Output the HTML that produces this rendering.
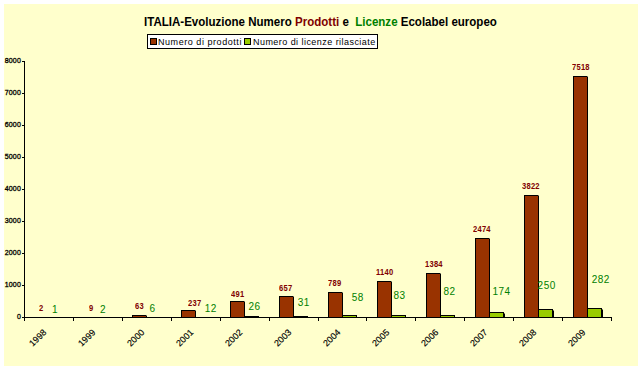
<!DOCTYPE html>
<html><head><meta charset="utf-8"><style>
html,body{margin:0;padding:0;background:#fff;}
body{width:643px;height:371px;position:relative;overflow:hidden;font-family:"Liberation Sans",sans-serif;}
#bg{position:absolute;left:4px;top:4px;width:634px;height:362px;background:#FFFFCC;}
svg{position:absolute;left:0;top:0;shape-rendering:crispEdges;}
.t{position:absolute;white-space:nowrap;line-height:1;}
#title{left:144px;top:16px;font-size:12px;font-weight:bold;color:#000;transform-origin:0 0;transform:scaleX(0.961);}
#legend{position:absolute;left:147px;top:34px;width:229px;height:13px;border:1px solid #000;background:#fff;}
.lm{position:absolute;top:3px;width:5px;height:5px;border:1px solid #000;}
.lt{position:absolute;top:3px;font-size:9px;line-height:1;white-space:nowrap;letter-spacing:0.55px;}
.ylab{position:absolute;font-size:7px;right:622px;letter-spacing:0.2px;-webkit-text-stroke:0.3px #000;text-align:right;line-height:1;}
.pl{position:absolute;font-size:9px;font-weight:bold;color:#800000;line-height:1;white-space:nowrap;transform-origin:0 0;transform:scaleX(0.84);letter-spacing:0.3px;}
.gl{position:absolute;font-size:10px;color:#008000;line-height:1;white-space:nowrap;letter-spacing:0.5px;}
.xl{position:absolute;font-size:9px;line-height:1;white-space:nowrap;transform-origin:100% 0;transform:rotate(-45deg);-webkit-text-stroke:0.15px #000;}
</style></head><body>
<div id="bg"></div>

<svg width="643" height="371" viewBox="0 0 643 371"><rect x="24" y="61" width="1" height="257" fill="#000"/><rect x="22" y="317" width="2" height="1" fill="#000"/><rect x="22" y="285" width="2" height="1" fill="#000"/><rect x="22" y="253" width="2" height="1" fill="#000"/><rect x="22" y="221" width="2" height="1" fill="#000"/><rect x="22" y="189" width="2" height="1" fill="#000"/><rect x="22" y="157" width="2" height="1" fill="#000"/><rect x="22" y="125" width="2" height="1" fill="#000"/><rect x="22" y="93" width="2" height="1" fill="#000"/><rect x="22" y="61" width="2" height="1" fill="#000"/><rect x="24" y="317" width="588" height="1" fill="#000"/><rect x="24" y="318" width="1" height="3" fill="#000"/><rect x="73" y="318" width="1" height="3" fill="#000"/><rect x="122" y="318" width="1" height="3" fill="#000"/><rect x="171" y="318" width="1" height="3" fill="#000"/><rect x="220" y="318" width="1" height="3" fill="#000"/><rect x="269" y="318" width="1" height="3" fill="#000"/><rect x="318" y="318" width="1" height="3" fill="#000"/><rect x="366" y="318" width="1" height="3" fill="#000"/><rect x="415" y="318" width="1" height="3" fill="#000"/><rect x="464" y="318" width="1" height="3" fill="#000"/><rect x="513" y="318" width="1" height="3" fill="#000"/><rect x="562" y="318" width="1" height="3" fill="#000"/><rect x="611" y="318" width="1" height="3" fill="#000"/><rect x="132" y="315" width="15" height="2" fill="#000"/><rect x="146" y="315" width="1" height="1" fill="#7f7f66"/><rect x="133" y="316" width="13" height="1" fill="#993300"/><rect x="181" y="310" width="15" height="7" fill="#000"/><rect x="195" y="310" width="1" height="1" fill="#7f7f66"/><rect x="182" y="311" width="13" height="6" fill="#993300"/><rect x="230" y="301" width="15" height="16" fill="#000"/><rect x="244" y="301" width="1" height="1" fill="#7f7f66"/><rect x="231" y="302" width="13" height="15" fill="#993300"/><rect x="245" y="316" width="14" height="1" fill="#000"/><rect x="279" y="296" width="15" height="21" fill="#000"/><rect x="293" y="296" width="1" height="1" fill="#7f7f66"/><rect x="280" y="297" width="13" height="20" fill="#993300"/><rect x="294" y="316" width="14" height="1" fill="#000"/><rect x="328" y="292" width="15" height="25" fill="#000"/><rect x="342" y="292" width="1" height="1" fill="#7f7f66"/><rect x="329" y="293" width="13" height="24" fill="#993300"/><rect x="343" y="315" width="14" height="2" fill="#000"/><rect x="343" y="316" width="13" height="1" fill="#99CC00"/><rect x="377" y="281" width="15" height="36" fill="#000"/><rect x="391" y="281" width="1" height="1" fill="#7f7f66"/><rect x="378" y="282" width="13" height="35" fill="#993300"/><rect x="392" y="315" width="14" height="2" fill="#000"/><rect x="392" y="316" width="13" height="1" fill="#99CC00"/><rect x="426" y="273" width="15" height="44" fill="#000"/><rect x="440" y="273" width="1" height="1" fill="#7f7f66"/><rect x="427" y="274" width="13" height="43" fill="#993300"/><rect x="441" y="315" width="14" height="2" fill="#000"/><rect x="441" y="316" width="13" height="1" fill="#99CC00"/><rect x="475" y="238" width="15" height="79" fill="#000"/><rect x="489" y="238" width="1" height="1" fill="#7f7f66"/><rect x="476" y="239" width="13" height="78" fill="#993300"/><rect x="490" y="312" width="14" height="5" fill="#000"/><rect x="504" y="314" width="1" height="3" fill="#000"/><rect x="504" y="313" width="1" height="1" fill="#7f7f66"/><rect x="490" y="313" width="13" height="4" fill="#99CC00"/><rect x="524" y="195" width="15" height="122" fill="#000"/><rect x="538" y="195" width="1" height="1" fill="#7f7f66"/><rect x="525" y="196" width="13" height="121" fill="#993300"/><rect x="539" y="309" width="14" height="8" fill="#000"/><rect x="553" y="311" width="1" height="6" fill="#000"/><rect x="553" y="310" width="1" height="1" fill="#7f7f66"/><rect x="539" y="310" width="13" height="7" fill="#99CC00"/><rect x="573" y="76" width="15" height="241" fill="#000"/><rect x="587" y="76" width="1" height="1" fill="#7f7f66"/><rect x="574" y="77" width="13" height="240" fill="#993300"/><rect x="588" y="308" width="14" height="9" fill="#000"/><rect x="602" y="310" width="1" height="7" fill="#000"/><rect x="602" y="309" width="1" height="1" fill="#7f7f66"/><rect x="588" y="309" width="13" height="8" fill="#99CC00"/></svg>
<div class="t" id="title">ITALIA-Evoluzione Numero <span style="color:#800000">Prodotti</span> e&nbsp; <span style="color:#008000">Licenze</span> Ecolabel europeo</div>
<div id="legend"><div class="lm" style="left:2px;background:#993300"></div><div class="lt" style="left:10px">Numero di prodotti</div><div class="lm" style="left:96px;background:#99CC00"></div><div class="lt" style="left:105px;letter-spacing:0.45px">Numero di licenze rilasciate</div></div>
<div class="ylab" style="top:313px">0</div>
<div class="ylab" style="top:281px">1000</div>
<div class="ylab" style="top:249px">2000</div>
<div class="ylab" style="top:217px">3000</div>
<div class="ylab" style="top:185px">4000</div>
<div class="ylab" style="top:153px">5000</div>
<div class="ylab" style="top:121px">6000</div>
<div class="ylab" style="top:89px">7000</div>
<div class="ylab" style="top:57px">8000</div>
<div class="pl" style="left:39px;top:304.2px">2</div>
<div class="gl" style="left:52px;top:305px">1</div>
<div class="pl" style="left:89px;top:304.2px">9</div>
<div class="gl" style="left:100px;top:305px">2</div>
<div class="pl" style="left:135px;top:302.2px">63</div>
<div class="gl" style="left:149.6px;top:304px">6</div>
<div class="pl" style="left:188px;top:299.2px">237</div>
<div class="gl" style="left:204.8px;top:304px">12</div>
<div class="pl" style="left:231px;top:290.2px">491</div>
<div class="gl" style="left:248.5px;top:302px">26</div>
<div class="pl" style="left:279px;top:283.7px">657</div>
<div class="gl" style="left:297.7px;top:298px">31</div>
<div class="pl" style="left:327.5px;top:279.2px">789</div>
<div class="gl" style="left:351.8px;top:293px">58</div>
<div class="pl" style="left:376px;top:268.2px">1140</div>
<div class="gl" style="left:393.4px;top:291px">83</div>
<div class="pl" style="left:425px;top:260.2px">1384</div>
<div class="gl" style="left:443.5px;top:287.3px">82</div>
<div class="pl" style="left:473px;top:225.2px">2474</div>
<div class="gl" style="left:492.4px;top:286.5px">174</div>
<div class="pl" style="left:522px;top:182.2px">3822</div>
<div class="gl" style="left:537.6px;top:281px">250</div>
<div class="pl" style="left:572px;top:63.2px">7518</div>
<div class="gl" style="left:591.7px;top:275px">282</div>
<div class="xl" style="right:600.5px;top:328px">1998</div>
<div class="xl" style="right:551.5px;top:328px">1999</div>
<div class="xl" style="right:502.5px;top:328px">2000</div>
<div class="xl" style="right:453.5px;top:328px">2001</div>
<div class="xl" style="right:404.5px;top:328px">2002</div>
<div class="xl" style="right:355.5px;top:328px">2003</div>
<div class="xl" style="right:306.5px;top:328px">2004</div>
<div class="xl" style="right:257.5px;top:328px">2005</div>
<div class="xl" style="right:208.5px;top:328px">2006</div>
<div class="xl" style="right:159.5px;top:328px">2007</div>
<div class="xl" style="right:110.5px;top:328px">2008</div>
<div class="xl" style="right:61.5px;top:328px">2009</div>
</body></html>
